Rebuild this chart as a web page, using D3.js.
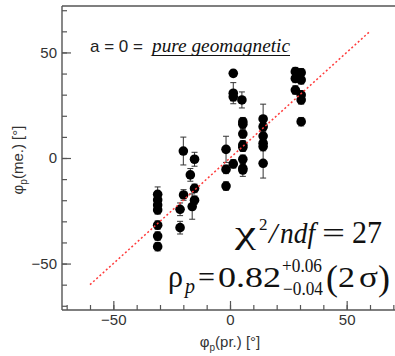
<!DOCTYPE html>
<html>
<head>
<meta charset="utf-8">
<script src="https://cdn.jsdelivr.net/npm/d3@7"></script>
<style>
  body { margin: 0; background: #fff; }
  svg { display: block; }
</style>
</head>
<body>
<div id="chart"></div>
<script>
const xPred = [
  -31, -31, -31, -31, -31, -31, -31,
  -20, -15.2, -17, -15.2, -19.9, -15.2, -16.2, -21.4, -21.4,
  1.4, 1.4, 1.4, 5.1, -1.7, -1.7, 1.4, -1.7,
  5.5, 5.5, 5.5, 5.5, 5.5, 5.5, 5.5, 5.5,
  14.2, 14.2, 14.2, 14.2, 14.2, 14.2,
  28, 28, 28, 30.5, 30.5, 30.5, 30.5, 30.5
];
const yMeas = [
  -17.2, -19.9, -22.3, -24.6, -31.8, -37, -42,
  3.3, -0.6, -8, -14.4, -17.5, -20, -23, -24.3, -33,
  40.1, 30.7, 29, 27.5, 4.1, -5.4, -2.8, -13.3,
  17.2, 16, 11.4, 6.2, 5.1, -0.6, -4.9, -5.7,
  18.5, 14.8, 10.4, 7, 5.4, -2.5,
  40.9, 37.7, 32.2, 40.4, 37, 29.9, 27.5, 17.2
];
const yErr = [
  3.5, 2, 2, 2, 2, 2, 2,
  6.6, 3.3, 3, 2, 2.5, 2, 6, 3, 3,
  1.5, 5, 2, 3.8, 6.2, 2, 2, 2,
  2, 2, 2, 2, 2, 2, 2, 3,
  7, 2, 2, 2, 2, 7,
  2, 2, 2, 2, 2, 2, 2, 2
];
const minorTicks = d3.range(-70, 71, 10);
const majorTicks = [-50, 0, 50];
const fitLine = [-60, 60];

const W = 395, H = 356;
const plot = {left: 62, top: 6, bottom: 310, right: 398};

const svg = d3.select("#chart").append("svg")
  .attr("width", W).attr("height", H);

const x = d3.scaleLinear().domain([-72, 72]).range([plot.left, plot.right]);
const y = d3.scaleLinear().domain([-72, 72]).range([plot.bottom, plot.top]);

const axisColor = "#555";
const labelFont = "'Liberation Sans', Arial, sans-serif";
const serif = "'Liberation Serif', Tinos, 'Noto Serif', 'DejaVu Serif'";

// minor ticks
svg.append("g")
  .attr("transform", `translate(${plot.left},0)`)
  .call(d3.axisLeft(y).tickValues(minorTicks).tickSize(-5).tickFormat(""))
  .call(g => g.select(".domain").remove());
svg.append("g")
  .attr("transform", `translate(0,${plot.bottom})`)
  .call(d3.axisBottom(x).tickValues(minorTicks).tickSize(-5).tickFormat(""))
  .call(g => g.select(".domain").remove());

// major ticks + labels
svg.append("g")
  .attr("transform", `translate(${plot.left},0)`)
  .call(d3.axisLeft(y).tickValues(majorTicks).tickSize(-9).tickPadding(5))
  .call(g => g.select(".domain").remove());
svg.append("g")
  .attr("transform", `translate(0,${plot.bottom})`)
  .call(d3.axisBottom(x).tickValues(majorTicks).tickSize(-9).tickPadding(4))
  .call(g => g.select(".domain").remove());

svg.selectAll(".tick line").attr("stroke", axisColor).attr("stroke-width", 1.2);
svg.selectAll(".tick text")
  .attr("fill", "#333")
  .style("font-family", labelFont)
  .style("font-size", "15px");

// frame (no right side, it is cut off)
const frame = svg.append("g").attr("stroke", axisColor).attr("stroke-width", 1.4);
frame.append("line").attr("x1", plot.left).attr("x2", W).attr("y1", plot.top).attr("y2", plot.top);
frame.append("line").attr("x1", plot.left).attr("x2", W).attr("y1", plot.bottom).attr("y2", plot.bottom);
frame.append("line").attr("x1", plot.left).attr("x2", plot.left).attr("y1", plot.top).attr("y2", plot.bottom);

// error bars
const pts = xPred.map((d, i) => ({x: d, y: yMeas[i], e: yErr[i]}));
const eb = svg.append("g").attr("stroke", "#333").attr("stroke-width", 1);
pts.forEach(d => {
  eb.append("line")
    .attr("x1", x(d.x)).attr("x2", x(d.x))
    .attr("y1", y(d.y - d.e)).attr("y2", y(d.y + d.e));
  [d.y - d.e, d.y + d.e].forEach(v => {
    eb.append("line")
      .attr("x1", x(d.x) - 3).attr("x2", x(d.x) + 3)
      .attr("y1", y(v)).attr("y2", y(v));
  });
});

// points
svg.append("g").selectAll("circle")
  .data(pts)
  .enter()
  .append("circle")
  .attr("cx", d => x(d.x))
  .attr("cy", d => y(d.y))
  .attr("r", 4.8)
  .attr("fill", "#000");

// diagonal
svg.append("line")
  .attr("x1", x(fitLine[0])).attr("y1", y(fitLine[0]))
  .attr("x2", x(fitLine[1])).attr("y2", y(fitLine[1]))
  .attr("stroke", "#ff3b3b")
  .attr("stroke-width", 1.5)
  .attr("stroke-dasharray", "2,2.3");

// axis titles
const xt = svg.append("text")
  .attr("x", 230).attr("y", 347)
  .attr("text-anchor", "middle")
  .attr("fill", "#333")
  .style("font-family", labelFont)
  .style("font-size", "15px");
xt.append("tspan").text("\u03c6");
xt.append("tspan").attr("dy", 4).style("font-size", "10px").text("p");
xt.append("tspan").attr("dy", -4).text("(pr.) [\u00b0]");

const yt = svg.append("text")
  .attr("transform", "translate(23,160) rotate(-90)")
  .attr("text-anchor", "middle")
  .attr("fill", "#333")
  .style("font-family", labelFont)
  .style("font-size", "15px");
yt.append("tspan").text("\u03c6");
yt.append("tspan").attr("dy", 4).style("font-size", "10px").text("p");
yt.append("tspan").attr("dy", -4).text("(me.) [\u00b0]");

// annotation
svg.append("text")
  .attr("x", 90).attr("y", 52)
  .attr("fill", "#222")
  .style("font-family", labelFont)
  .style("font-size", "17px")
  .text("a = 0 =");
svg.append("text")
  .attr("x", 152).attr("y", 52)
  .attr("fill", "#111")
  .attr("textLength", 138)
  .attr("lengthAdjust", "spacingAndGlyphs")
  .style("font-family", serif)
  .style("font-style", "italic")
  .style("font-size", "18px")
  .text("pure geomagnetic");
svg.append("line")
  .attr("x1", 152).attr("x2", 290).attr("y1", 55.5).attr("y2", 55.5)
  .attr("stroke", "#111").attr("stroke-width", 1);

// fit results
function put(txt, px, py, size, italic, len) {
  const t = svg.append("text")
    .attr("x", px).attr("y", py)
    .attr("fill", "#111")
    .style("font-family", serif)
    .style("font-size", size + "px")
    .style("font-style", italic ? "italic" : "normal")
    .text(txt);
  if (len) t.attr("textLength", len).attr("lengthAdjust", "spacingAndGlyphs");
}
put("\u03c7", 235, 243, 31, false, 21);
put("2", 259, 230, 17, false);
put("/", 269, 243, 30, true);
put("ndf", 280, 243, 30, true, 35);
put("=", 322, 243, 30, false, 23);
put("27", 352, 243, 31, false, 30);

put("\u03c1", 168, 287, 31, false, 15);
put("p", 185, 293, 20, true);
put("=", 198, 287, 30, false, 17);
put("0.82", 218, 287, 30, false, 63);
put("+0.06", 282, 272, 18, false, 40);
put("\u22120.04", 283, 295, 18, false, 40);
put("(", 326, 290, 36, false);
put("2", 338, 287, 30, false, 17);
put("\u03c3", 359, 287, 30, false, 19);
put(")", 378, 290, 36, false);
</script>
</body>
</html>
